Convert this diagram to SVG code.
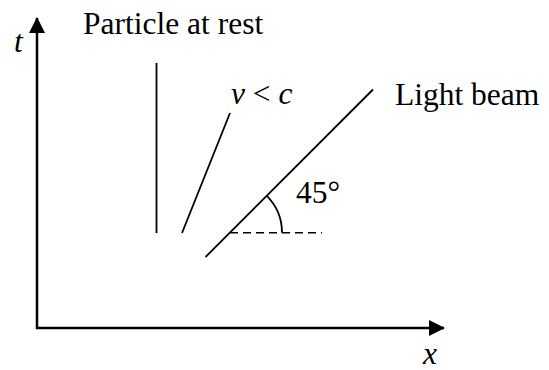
<svg xmlns="http://www.w3.org/2000/svg" width="549" height="370" viewBox="0 0 549 370">
<style>
.ax{stroke:#000;stroke-width:2.5;fill:none}
.ln{stroke:#000;stroke-width:1.8;fill:none}
.dash{stroke:#000;stroke-width:1.5;stroke-dasharray:8 5;fill:none}
.tx{font-family:'Liberation Serif',serif;font-size:31.5px;fill:#000}
.it{font-style:italic}
</style>
<defs>
<marker id="ah" viewBox="0 0 16 16" refX="15" refY="8" markerWidth="16" markerHeight="16" markerUnits="userSpaceOnUse" orient="auto">
<path d="M0,0 L16,8 L0,16 Z" fill="#000"/>
</marker>
</defs>
<g id="connectors">
<line id="t-axis" class="ax" x1="37" y1="329" x2="37" y2="18" marker-end="url(#ah)"/>
<line id="x-axis" class="ax" x1="36" y1="328" x2="444" y2="328" marker-end="url(#ah)"/>
<line id="rest" class="ln" x1="156.5" y1="63" x2="156.5" y2="233"/>
<line id="slow" class="ln" x1="230" y1="113" x2="182" y2="233"/>
<line id="light" class="ln" x1="205.5" y1="257" x2="373" y2="89.5"/>
<line id="horiz" class="dash" x1="230" y1="232.7" x2="322" y2="232.7"/>
<path id="arc" class="ln" d="M266.8,195.9 A52,52 0 0 1 282,232.7"/>
</g>
<g id="label-t"><text class="tx it" x="14" y="52">t</text></g>
<g id="label-rest"><text class="tx" x="83" y="34">Particle at rest</text></g>
<g id="label-v"><text class="tx" x="231" y="104"><tspan class="it">v</tspan> &lt; <tspan class="it">c</tspan></text></g>
<g id="label-light"><text class="tx" x="395" y="105">Light beam</text></g>
<g id="label-angle"><text class="tx" x="296" y="203">45°</text></g>
<g id="label-x"><text class="tx it" x="423" y="364">x</text></g>
</svg>
